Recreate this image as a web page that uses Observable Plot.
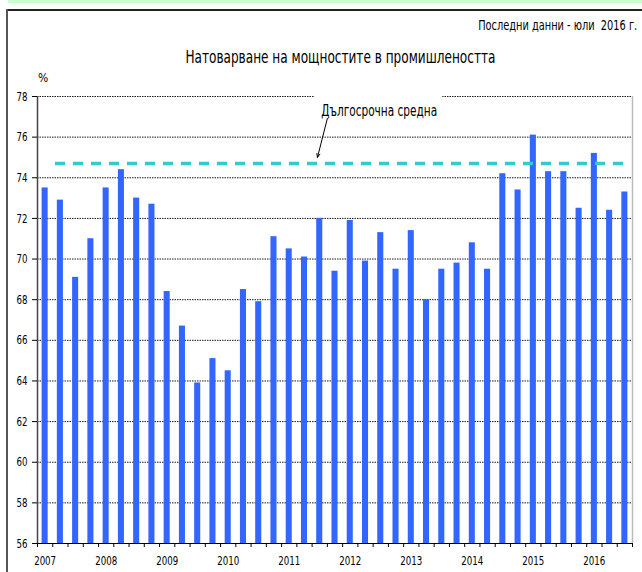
<!DOCTYPE html>
<html>
<head>
<meta charset="utf-8">
<script src="https://cdn.jsdelivr.net/npm/d3@7"></script>
<script src="https://cdn.jsdelivr.net/npm/@observablehq/plot@0.6"></script>
<style>
  body { margin: 0; background: #fff; }
  #wrap { position: relative; width: 642px; height: 572px; overflow: hidden;
          font-family: "DejaVu Sans", sans-serif; font-stretch: condensed; color: #000; }
  #band { position: absolute; left: 8px; top: 0; width: 634px; height: 3px; background: #ccffcc; }
  #frameTop { position: absolute; left: 6px; top: 9px; width: 636px; height: 2px; background: #222; }
  #frameLeft { position: absolute; left: 6px; top: 9px; width: 2px; height: 563px; background: #555; }
  .txt { position: absolute; white-space: pre; line-height: 1; }
  #sub { top: 18px; font-size: 14px; }
  #title { top: 48px; font-size: 18px; }
  #pct { left: 38px; top: 72px; font-size: 12px; }
  #chart { position: absolute; left: 0; top: 0; }
</style>
</head>
<body>
<div id="wrap">
  <div id="chart"></div>
  <div id="band"></div>
  <div id="frameTop"></div>
  <div id="frameLeft"></div>
  <span class="txt" id="sub">Последни данни - юли  2016 г.</span>
  <span class="txt" id="title">Натоварване на мощностите в промишлеността</span>
  <span class="txt" id="pct">%</span>
</div>
<script>
// ---- data ----
const years = [2007, 2008, 2009, 2010, 2011, 2012, 2013, 2014, 2015, 2016];
const quartersPerYear = ["I", "II", "III", "IV"];
const values = [
  73.5, 72.9, 69.1, 71.0,
  73.5, 74.4, 73.0, 72.7,
  68.4, 66.7, 63.9, 65.1,
  64.5, 68.5, 67.9, 71.1,
  70.5, 70.1, 72.0, 69.4,
  71.9, 69.9, 71.3, 69.5,
  71.4, 68.0, 69.5, 69.8,
  70.8, 69.5, 74.2, 73.4,
  76.1, 74.3, 74.3, 72.5,
  75.2, 72.4, 73.3
];
const longTermAverage = [74.7];
const yTicks = [56, 58, 60, 62, 64, 66, 68, 70, 72, 74, 76, 78];
const annotationLabel = ["Дългосрочна средна"];
// annotation anchor (in quarter index / percent units)
const annotationAt = [{x: 18.6, y: 77.3}];
const arrowFrom = [{x: 19.0, y: 76.92}];
const arrowTo = [{x: 18.35, y: 75.0}];

// ---- build ----
const yMin = yTicks[0], yMax = yTicks[yTicks.length - 1];
const data = values.map((v, i) => ({
  i,
  label: years[Math.floor(i / 4)] + " " + quartersPerYear[i % 4],
  value: v
}));
const yearPositions = years.map((y, k) => 4 * k + 0.5);
const fontFam = '"DejaVu Sans", sans-serif';

const chart = Plot.plot({
  width: 642,
  height: 572,
  marginLeft: 37,
  marginRight: 10,
  marginTop: 96,
  marginBottom: 29,
  style: { background: "transparent", fontFamily: fontFam, fontSize: "13px", color: "#000", fontStretch: "condensed" },
  x: { type: "linear", domain: [0, values.length], axis: null },
  y: { domain: [yMin, yMax], axis: null },
  marks: [
    Plot.ruleY(yTicks.filter(t => t > yMin), { stroke: "#000", strokeWidth: 1, strokeDasharray: "1.5,1", strokeOpacity: 0.9 }),
    Plot.rect(data, { x1: "i", x2: d => d.i + 1, y1: yMin, y2: "value", insetLeft: 4.6, insetRight: 4.6, fill: "#3366ff" }),
    Plot.ruleY(longTermAverage, { stroke: "#33cccc", strokeWidth: 3.5, strokeDasharray: "10,8", insetLeft: 18, insetRight: 3 }),
    Plot.ruleX([0], { y1: yMin, y2: yMax, stroke: "#444", strokeWidth: 1.5 }),
    Plot.ruleX([values.length], { y1: yMin, y2: yMax, stroke: "#bbb", strokeWidth: 1.5 }),
    Plot.ruleY([yMin], { stroke: "#000", strokeWidth: 1.2 }),
    Plot.axisY({ ticks: yTicks, tickSize: 5, tickPadding: 5, label: null, fontSize: 13, tickFormat: d => String(d) }),
    Plot.axisX({ ticks: d3.range(0, values.length + 1), tickSize: 4, tickFormat: () => "", label: null }),
    Plot.axisX({ ticks: yearPositions, tickSize: 0, tickPadding: 12, label: null, fontSize: 13,
                 tickFormat: d => String(years[Math.floor(d / 4)]) }),
    Plot.text(annotationAt, { x: "x", y: "y", text: () => annotationLabel[0], textAnchor: "start", fontSize: 15,
                              fill: "#000", stroke: "#fff", strokeWidth: 28, strokeLinejoin: "round", paintOrder: "stroke" }),
    Plot.arrow(arrowFrom.map((a, k) => ({ ...a, x2: arrowTo[k].x, y2: arrowTo[k].y })),
               { x1: "x", y1: "y", x2: "x2", y2: "y2", stroke: "#000", strokeWidth: 1, headLength: 6, headAngle: 45 })
  ]
});
document.getElementById("chart").appendChild(chart);

// ---- narrow the type to match the condensed face of the original ----
function fitHtml(id, targetWidth, anchor, pos) {
  const el = document.getElementById(id);
  const w = el.getBoundingClientRect().width;
  const s = targetWidth / w;
  if (anchor === "center") {
    el.style.left = (pos - w / 2) + "px";
    el.style.transformOrigin = "50% 50%";
  } else if (anchor === "right") {
    el.style.left = (pos - w) + "px";
    el.style.transformOrigin = "100% 50%";
  } else {
    el.style.left = pos + "px";
    el.style.transformOrigin = "0% 50%";
  }
  el.style.transform = `scaleX(${s})`;
}
fitHtml("title", 310, "center", 340);
fitHtml("sub", 159, "right", 637);

const perChar = 5.5; // digit advance width in the original
chart.querySelectorAll("text").forEach(t => {
  const txt = t.textContent;
  if (!txt) return;
  const w = t.getComputedTextLength ? t.getComputedTextLength() : t.getBBox().width;
  if (!w) return;
  const target = /^\d+$/.test(txt) ? perChar * txt.length : 116;
  const s = target / w;
  const tr = t.getAttribute("transform") || "";
  t.setAttribute("transform", tr + ` scale(${s},1)`);
});
</script>
</body>
</html>
